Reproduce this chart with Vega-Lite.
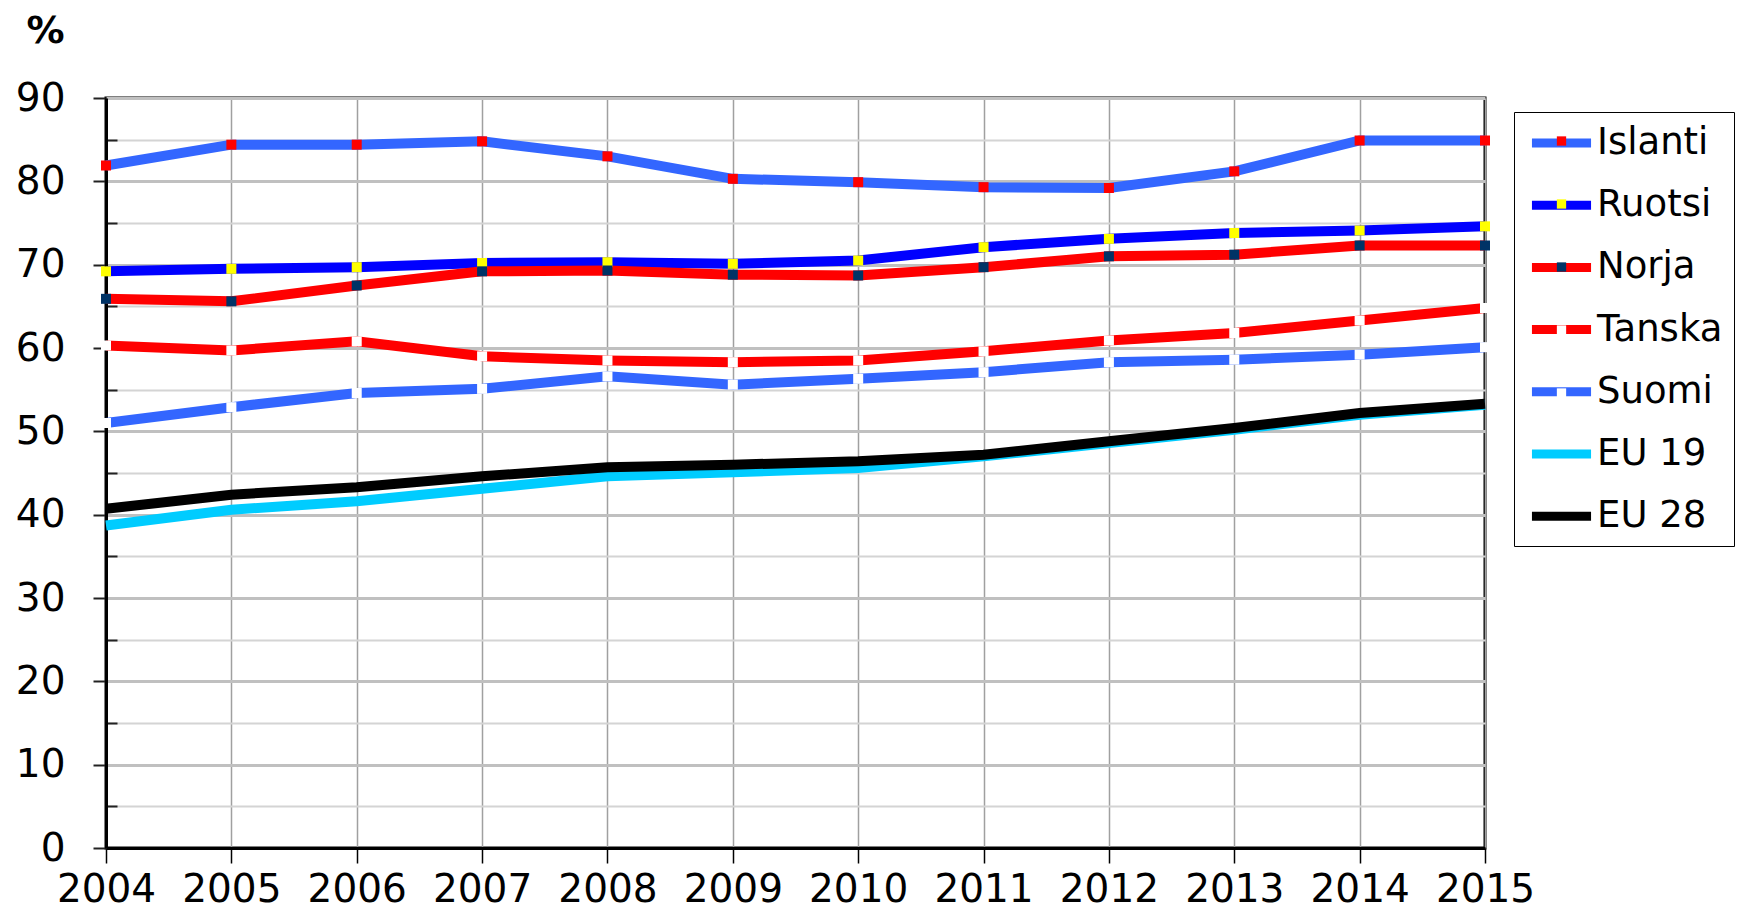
{
  "$schema": "https://vega.github.io/schema/vega-lite/v6.json",
  "width": 1379,
  "height": 750,
  "autosize": "none",
  "padding": {"left": 106, "top": 98, "right": 265, "bottom": 64},
  "background": "white",
  "config": {
    "font": "DejaVu Sans",
    "view": {"stroke": "#000", "strokeWidth": 3}
  },
  "data": {"values": [
    {"year": 2004, "series": "Islanti", "value": 81.9},
    {"year": 2005, "series": "Islanti", "value": 84.4},
    {"year": 2006, "series": "Islanti", "value": 84.4},
    {"year": 2007, "series": "Islanti", "value": 84.8},
    {"year": 2008, "series": "Islanti", "value": 83.0},
    {"year": 2009, "series": "Islanti", "value": 80.3},
    {"year": 2010, "series": "Islanti", "value": 79.9},
    {"year": 2011, "series": "Islanti", "value": 79.3},
    {"year": 2012, "series": "Islanti", "value": 79.2},
    {"year": 2013, "series": "Islanti", "value": 81.2},
    {"year": 2014, "series": "Islanti", "value": 84.9},
    {"year": 2015, "series": "Islanti", "value": 84.9},
    {"year": 2004, "series": "Ruotsi", "value": 69.2},
    {"year": 2005, "series": "Ruotsi", "value": 69.5},
    {"year": 2006, "series": "Ruotsi", "value": 69.7},
    {"year": 2007, "series": "Ruotsi", "value": 70.2},
    {"year": 2008, "series": "Ruotsi", "value": 70.3},
    {"year": 2009, "series": "Ruotsi", "value": 70.1},
    {"year": 2010, "series": "Ruotsi", "value": 70.5},
    {"year": 2011, "series": "Ruotsi", "value": 72.1},
    {"year": 2012, "series": "Ruotsi", "value": 73.1},
    {"year": 2013, "series": "Ruotsi", "value": 73.8},
    {"year": 2014, "series": "Ruotsi", "value": 74.1},
    {"year": 2015, "series": "Ruotsi", "value": 74.6},
    {"year": 2004, "series": "Norja", "value": 65.9},
    {"year": 2005, "series": "Norja", "value": 65.6},
    {"year": 2006, "series": "Norja", "value": 67.5},
    {"year": 2007, "series": "Norja", "value": 69.2},
    {"year": 2008, "series": "Norja", "value": 69.3},
    {"year": 2009, "series": "Norja", "value": 68.8},
    {"year": 2010, "series": "Norja", "value": 68.7},
    {"year": 2011, "series": "Norja", "value": 69.7},
    {"year": 2012, "series": "Norja", "value": 71.0},
    {"year": 2013, "series": "Norja", "value": 71.2},
    {"year": 2014, "series": "Norja", "value": 72.3},
    {"year": 2015, "series": "Norja", "value": 72.3},
    {"year": 2004, "series": "Tanska", "value": 60.3},
    {"year": 2005, "series": "Tanska", "value": 59.7},
    {"year": 2006, "series": "Tanska", "value": 60.8},
    {"year": 2007, "series": "Tanska", "value": 59.0},
    {"year": 2008, "series": "Tanska", "value": 58.5},
    {"year": 2009, "series": "Tanska", "value": 58.3},
    {"year": 2010, "series": "Tanska", "value": 58.5},
    {"year": 2011, "series": "Tanska", "value": 59.6},
    {"year": 2012, "series": "Tanska", "value": 60.9},
    {"year": 2013, "series": "Tanska", "value": 61.8},
    {"year": 2014, "series": "Tanska", "value": 63.3},
    {"year": 2015, "series": "Tanska", "value": 64.8},
    {"year": 2004, "series": "Suomi", "value": 51.0},
    {"year": 2005, "series": "Suomi", "value": 52.9},
    {"year": 2006, "series": "Suomi", "value": 54.6},
    {"year": 2007, "series": "Suomi", "value": 55.1},
    {"year": 2008, "series": "Suomi", "value": 56.6},
    {"year": 2009, "series": "Suomi", "value": 55.6},
    {"year": 2010, "series": "Suomi", "value": 56.3},
    {"year": 2011, "series": "Suomi", "value": 57.1},
    {"year": 2012, "series": "Suomi", "value": 58.3},
    {"year": 2013, "series": "Suomi", "value": 58.6},
    {"year": 2014, "series": "Suomi", "value": 59.2},
    {"year": 2015, "series": "Suomi", "value": 60.1},
    {"year": 2004, "series": "EU 19", "value": 38.7},
    {"year": 2005, "series": "EU 19", "value": 40.6},
    {"year": 2006, "series": "EU 19", "value": 41.6},
    {"year": 2007, "series": "EU 19", "value": 43.1},
    {"year": 2008, "series": "EU 19", "value": 44.6},
    {"year": 2009, "series": "EU 19", "value": 45.1},
    {"year": 2010, "series": "EU 19", "value": 45.6},
    {"year": 2011, "series": "EU 19", "value": 47.0},
    {"year": 2012, "series": "EU 19", "value": 48.6},
    {"year": 2013, "series": "EU 19", "value": 50.2},
    {"year": 2014, "series": "EU 19", "value": 52.0},
    {"year": 2015, "series": "EU 19", "value": 53.2},
    {"year": 2004, "series": "EU 28", "value": 40.7},
    {"year": 2005, "series": "EU 28", "value": 42.4},
    {"year": 2006, "series": "EU 28", "value": 43.3},
    {"year": 2007, "series": "EU 28", "value": 44.6},
    {"year": 2008, "series": "EU 28", "value": 45.7},
    {"year": 2009, "series": "EU 28", "value": 46.0},
    {"year": 2010, "series": "EU 28", "value": 46.4},
    {"year": 2011, "series": "EU 28", "value": 47.2},
    {"year": 2012, "series": "EU 28", "value": 48.8},
    {"year": 2013, "series": "EU 28", "value": 50.4},
    {"year": 2014, "series": "EU 28", "value": 52.2},
    {"year": 2015, "series": "EU 28", "value": 53.3}
  ]},
  "layer": [
    {
      "mark": {"type": "line", "strokeWidth": 10},
      "encoding": {
        "x": {
          "field": "year", "type": "quantitative",
          "scale": {"domain": [2004, 2015], "nice": false, "zero": false},
          "axis": {
            "values": [2004, 2005, 2006, 2007, 2008, 2009, 2010, 2011, 2012, 2013, 2014, 2015],
            "format": "d", "title": null,
            "labelFontSize": 39, "labelColor": "#000", "labelFlush": false, "labelOverlap": false,
            "labelPadding": 7,
            "tickSize": 15, "tickColor": "#000", "tickWidth": 1.5,
            "domainColor": "#000", "domainWidth": 3,
            "grid": true, "gridColor": "#a0a0a0", "gridWidth": 1.5
          }
        },
        "y": {
          "field": "value", "type": "quantitative",
          "scale": {"domain": [0, 90], "nice": false},
          "axis": {
            "values": [0, 5, 10, 15, 20, 25, 30, 35, 40, 45, 50, 55, 60, 65, 70, 75, 80, 85, 90],
            "labelExpr": "datum.value % 10 === 0 ? datum.label : ''",
            "labelFontSize": 39, "labelColor": "#000", "labelPadding": 28,
            "tickSize": {"condition": {"test": "datum.value % 10 === 0", "value": 13}, "value": -11},
            "tickColor": "#222", "tickWidth": 2,
            "domainColor": "#000", "domainWidth": 3,
            "grid": true,
            "gridColor": {"condition": {"test": "datum.value % 10 === 0", "value": "#c0c0c0"}, "value": "#d4d4d4"},
            "gridWidth": {"condition": {"test": "datum.value % 10 === 0", "value": 3}, "value": 2},
            "title": "%", "titleAngle": 0, "titleFontSize": 38, "titleFontWeight": "bold",
            "titleColor": "#000", "titleX": -61, "titleY": -56,
            "titleAlign": "center", "titleBaseline": "alphabetic"
          }
        },
        "stroke": {
          "field": "series", "type": "nominal",
          "scale": {
            "domain": ["Islanti", "Ruotsi", "Norja", "Tanska", "Suomi", "EU 19", "EU 28"],
            "range": ["#3366FF", "#0000FF", "#FF0000", "#FF0000", "#3366FF", "#00CCFF", "#000000"]
          },
          "legend": {
            "orient": "none", "legendX": 1408, "legendY": 14, "title": null,
            "symbolType": "M-0.87,0H3.07", "symbolSize": 900, "symbolStrokeWidth": 9,
            "labelFontSize": 37, "labelColor": "#000", "labelOffset": 32.5,
            "rowPadding": 24.2, "padding": 11.5, "strokeColor": "#000", "zindex": 0
          }
        }
      }
    },
    {
      "transform": [{"filter": {"field": "series", "oneOf": ["Islanti", "Ruotsi", "Norja", "Tanska", "Suomi"]}}],
      "mark": {"type": "point", "shape": "square", "filled": true, "size": 100, "opacity": 1, "strokeWidth": 0},
      "encoding": {
        "x": {"field": "year", "type": "quantitative"},
        "y": {"field": "value", "type": "quantitative"},
        "fill": {
          "field": "series", "type": "nominal",
          "scale": {
            "domain": ["Islanti", "Ruotsi", "Norja", "Tanska", "Suomi"],
            "range": ["#FF0000", "#FFFF00", "#003366", "#FFFFFF", "#FFFFFF"]
          },
          "legend": {
            "orient": "none", "legendX": 1408, "legendY": 12, "title": null,
            "symbolType": "M0.79,-0.31H1.41V0.31H0.79Z", "symbolSize": 900, "symbolStrokeWidth": 9,
            "symbolStrokeColor": "transparent", "symbolOpacity": 1,
            "labelFontSize": 37, "labelColor": "transparent", "labelOffset": 32.5,
            "rowPadding": 16.0, "padding": 11.5, "zindex": 1
          }
        }
      }
    }
  ]
}
